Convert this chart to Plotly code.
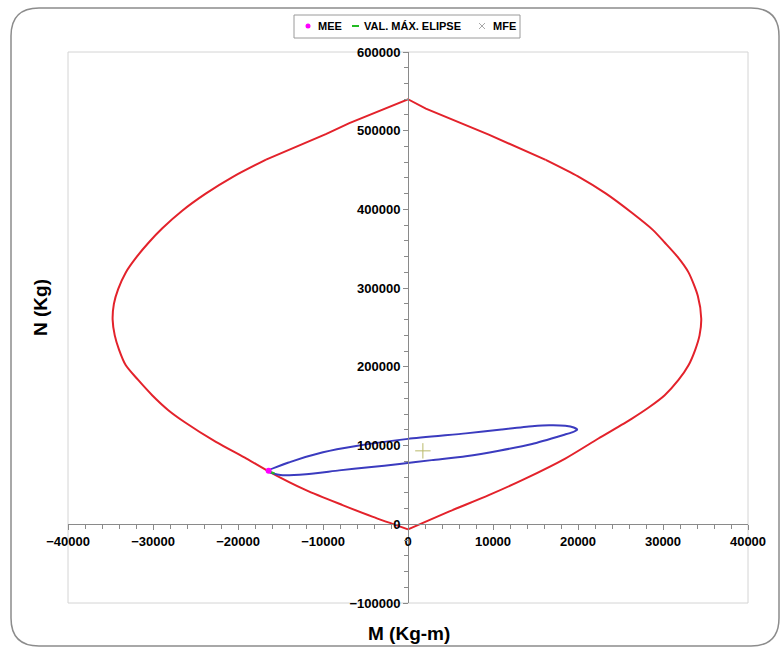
import plotly.graph_objects as go

# Interaction diagram (M-N envelope)
# Upper cap: straight segments through the top vertex
m_cap = [-16700, -9600, -6900, 0, 2100, 9500, 16200]
n_cap = [463300, 496000, 509700, 540000, 528000, 495000, 463000]

# Right branch from the cap down to the bottom vertex
m_right = [16200, 20000, 23300, 26300, 28800, 30200, 31700, 33000, 34100, 34500,
           34300, 33800, 33000, 31800, 30200, 28400, 26300, 22400, 18500, 13800,
           9500, 4800, 0]
n_right = [463000, 442000, 420000, 396000, 374000, 358000, 340000, 320000, 290000,
           261000, 240000, 222000, 202000, 183000, 164000, 149000, 134000, 109000,
           83500, 58000, 37000, 16000, -6500]

# Left branch from the bottom vertex back up to the cap
m_left = [0, -4200, -7700, -12000, -16300, -19000, -22600, -26300, -28200, -30100,
          -31800, -33200, -34000, -34500, -34750, -34600, -34100, -33200, -31900,
          -30500, -28900, -26600, -23800, -20500, -16700]
n_left = [-6500, 9700, 24400, 43400, 66700, 83500, 104700, 130000, 145000, 164000,
          184000, 202000, 222000, 240000, 260000, 280000, 298700, 320000, 340000,
          358000, 376000, 398000, 420000, 442000, 463300]

# Load ellipse contour
m_ellipse = [-16500, -13900, -10000, -6100, 0, 6800, 11000, 14600, 16600, 18500,
             19500, 19900, 19300, 18300, 14600, 10700, 6800, 2800, -1000, -4600,
             -8100, -12000, -15000, -16500]
n_ellipse = [67500, 79000, 91500, 99500, 108500, 115500, 120500, 124500, 125800,
             125200, 123000, 120200, 116800, 113500, 102000, 93500, 86500, 81500,
             76500, 72500, 68500, 63500, 62500, 67500]

# MEE point, maximum ellipse value segment, MFE point
mee_m, mee_n = [-16400], [68000]
valmax_m, valmax_n = [-16300, -15700], [67000, 64500]
mfe_m, mfe_n = [1750], [93300]

legend_labels = ["MEE", "VAL. MÁX. ELIPSE", "MFE"]

x_range = [-40000, 40000]
y_range = [-100000, 600000]

W, H = 781, 649
L, R, T, B = 68, 33, 52, 46
pw, ph = W - L - R, H - T - B

bold = dict(family="Arial, Liberation Sans, sans-serif", color="#000000", weight="bold")
red = "#e3222b"

fig = go.Figure()

fig.add_trace(go.Scatter(x=m_cap, y=n_cap, mode="lines",
                         line=dict(color=red, width=2), hoverinfo="skip"))
fig.add_trace(go.Scatter(x=m_right + [None] + m_left, y=n_right + [None] + n_left,
                         mode="lines", connectgaps=False,
                         line=dict(color=red, width=2, shape="spline", smoothing=0.7),
                         hoverinfo="skip"))
fig.add_trace(go.Scatter(x=m_ellipse, y=n_ellipse, mode="lines",
                         line=dict(color="#3b3bbf", width=2, shape="spline", smoothing=0.6),
                         hoverinfo="skip"))
fig.add_trace(go.Scatter(x=valmax_m, y=valmax_n, mode="lines", name=legend_labels[1],
                         line=dict(color="#22bb22", width=2)))
fig.add_trace(go.Scatter(x=mee_m, y=mee_n, mode="markers", name=legend_labels[0],
                         marker=dict(color="#ff00ff", size=6, symbol="circle")))
fig.add_trace(go.Scatter(x=mfe_m, y=mfe_n, mode="markers", name=legend_labels[2],
                         marker=dict(symbol="cross-thin", size=11,
                                     line=dict(color="#b9b96a", width=1))))


def px(x):
    return (x - L) / pw


def py(y):
    return (H - B - y) / ph


# rounded outer frame of the chart
x0, y0, x1, y1, r = 11, 8, 779, 646, 28
path = (f"M {px(x0 + r)},{py(y0)} L {px(x1 - r)},{py(y0)} "
        f"Q {px(x1)},{py(y0)} {px(x1)},{py(y0 + r)} "
        f"L {px(x1)},{py(y1 - r)} Q {px(x1)},{py(y1)} {px(x1 - r)},{py(y1)} "
        f"L {px(x0 + r)},{py(y1)} Q {px(x0)},{py(y1)} {px(x0)},{py(y1 - r)} "
        f"L {px(x0)},{py(y0 + r)} Q {px(x0)},{py(y0)} {px(x0 + r)},{py(y0)} Z")

# compact legend box drawn in paper space
ly = 26
shapes = [
    dict(type="path", path=path, xref="paper", yref="paper",
         line=dict(color="#8c8c8c", width=1.5), layer="below"),
    dict(type="rect", xref="paper", yref="paper", x0=0, y0=0, x1=1, y1=1,
         line=dict(color="#d4d4d4", width=1), layer="below"),
    dict(type="rect", xref="paper", yref="paper", x0=px(294), x1=px(520),
         y0=py(15), y1=py(38), line=dict(color="#9a9a9a", width=1), fillcolor="white"),
    dict(type="circle", xref="paper", yref="paper", x0=px(305.5), x1=px(310.5),
         y0=py(ly - 2.5), y1=py(ly + 2.5), line=dict(width=0), fillcolor="#ff00ff"),
    dict(type="line", xref="paper", yref="paper", x0=px(352), x1=px(359),
         y0=py(ly), y1=py(ly), line=dict(color="#22bb22", width=2)),
    dict(type="path", xref="paper", yref="paper",
         path=(f"M {px(479)},{py(ly - 3)} L {px(485)},{py(ly + 3)} "
               f"M {px(479)},{py(ly + 3)} L {px(485)},{py(ly - 3)}"),
         line=dict(color="#a8a8a8", width=1)),
]

annotations = [
    dict(text="M (Kg-m)", x=px(409), y=py(633), xref="paper", yref="paper",
         xanchor="center", yanchor="middle",
         showarrow=False, font=dict(size=19, **bold)),
    dict(text="N (Kg)", x=px(40), y=py(308), xref="paper", yref="paper",
         xanchor="center", yanchor="middle",
         showarrow=False, textangle=-90, font=dict(size=19, **bold)),
]
for label, xl in zip(legend_labels, [316, 362, 491]):
    annotations.append(dict(text=label, x=px(xl), y=py(ly), xref="paper", yref="paper",
                            xanchor="left", yanchor="middle", showarrow=False,
                            font=dict(size=11, **bold)))

fig.update_layout(
    width=W, height=H,
    margin=dict(l=L, r=R, t=T, b=B),
    paper_bgcolor="white", plot_bgcolor="white",
    showlegend=False,
    shapes=shapes,
    annotations=annotations,
)

x_cross = (0 - y_range[0]) / (y_range[1] - y_range[0])
y_cross = (0 - x_range[0]) / (x_range[1] - x_range[0])

fig.update_xaxes(range=x_range, dtick=10000, tick0=0, showgrid=False, zeroline=False,
                 showline=True, linecolor="#8a8a8a", linewidth=1,
                 ticks="outside", ticklen=5, tickcolor="#8a8a8a",
                 minor=dict(dtick=2000, ticks="outside", ticklen=4, tickcolor="#8a8a8a"),
                 anchor="free", position=x_cross, tickfont=dict(size=13, **bold),
                 tickformat="d", fixedrange=True)
fig.update_yaxes(range=y_range, dtick=100000, tick0=0, showgrid=False, zeroline=False,
                 showline=True, linecolor="#8a8a8a", linewidth=1,
                 ticks="outside", ticklen=5, tickcolor="#8a8a8a",
                 minor=dict(dtick=20000, ticks="outside", ticklen=4, tickcolor="#8a8a8a"),
                 anchor="free", position=y_cross, tickfont=dict(size=13, **bold),
                 tickformat="d", fixedrange=True)

fig.write_html("out.html")
